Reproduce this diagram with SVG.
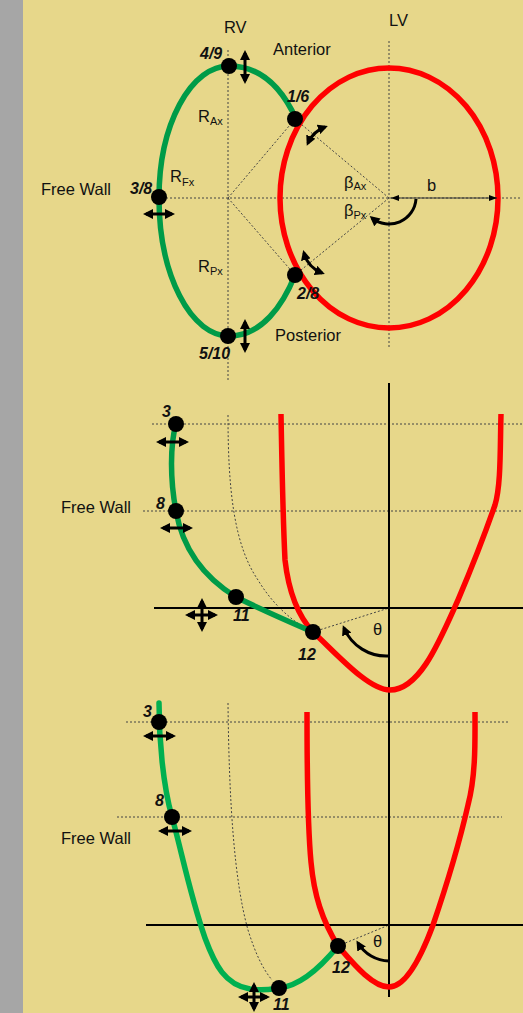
<svg xmlns="http://www.w3.org/2000/svg" width="523" height="1013" viewBox="0 0 523 1013">
<defs>
<style>
.lbl{font-family:"Liberation Sans",Arial,sans-serif;font-size:16.5px;fill:#111}
.num{font-family:"Liberation Sans",Arial,sans-serif;font-size:16px;font-weight:bold;font-style:italic;fill:#111}
.sub{font-size:11px}
.dot{stroke:#444;stroke-width:1;stroke-dasharray:2 2;fill:none}
.axis{stroke:#000;stroke-width:2;fill:none}
.red{stroke:#FF0000;stroke-width:5.5;fill:none;stroke-linejoin:round}
.grn{stroke:#009B48;stroke-width:5.5;fill:none;stroke-linecap:round}
.grn2{stroke:#00B050;stroke-width:5.5;fill:none;stroke-linecap:round}
.pt{fill:#000}
.arr{stroke:#000;stroke-width:3;fill:none;marker-start:url(#head);marker-end:url(#head)}
.arr1{stroke:#000;stroke-width:3;fill:none;marker-end:url(#head)}
</style>
<marker id="head" viewBox="0 0 10 10" refX="7" refY="5" markerWidth="10" markerHeight="10" markerUnits="userSpaceOnUse" orient="auto-start-reverse"><path d="M0,0 L10,5 L0,10 z" fill="#000"/></marker>
<marker id="headS" viewBox="0 0 8 6" refX="8" refY="3" markerWidth="8" markerHeight="6" markerUnits="userSpaceOnUse" orient="auto-start-reverse"><path d="M0,0 L8,3 L0,6 z" fill="#000"/></marker>
</defs>
<rect x="0" y="0" width="523" height="1013" fill="#E7D78A"/>
<rect x="0" y="0" width="23" height="1013" fill="#A6A6A6"/>

<g id="connectors">
  <line class="dot" x1="228" y1="50" x2="228" y2="382"/>
  <line class="dot" x1="389" y1="41" x2="389" y2="347"/>
  <line class="dot" x1="166" y1="198" x2="521" y2="198"/>
  <line class="dot" x1="228" y1="198" x2="295" y2="119"/>
  <line class="dot" x1="228" y1="198" x2="295" y2="275"/>
  <line class="dot" x1="389" y1="198" x2="295" y2="119"/>
  <line class="dot" x1="389" y1="198" x2="295" y2="275"/>
  <line class="dot" x1="152" y1="424" x2="523" y2="424"/>
  <line class="dot" x1="143" y1="511" x2="523" y2="511"/>
  <path class="dot" d="M228,415 C228,490 234,545 258,580 C270,600 285,615 302,626"/>
  <line class="dot" x1="313" y1="632" x2="389" y2="608"/>
  <line class="axis" x1="389" y1="383" x2="389" y2="705"/>
  <line class="axis" x1="154" y1="608" x2="523" y2="608"/>
  <line class="dot" x1="126" y1="722" x2="510" y2="722"/>
  <line class="dot" x1="117" y1="817" x2="502" y2="817"/>
  <path class="dot" d="M228,703 C229,800 234,880 248,930 C255,952 262,968 272,980"/>
  <line class="dot" x1="338" y1="946" x2="389" y2="925"/>
  <line class="axis" x1="389" y1="705" x2="389" y2="997"/>
  <line class="axis" x1="146" y1="925" x2="523" y2="925"/>
</g>

<g id="top-diagram">
  <g id="lv-top"><ellipse class="red" cx="389" cy="198" rx="109" ry="130"/></g>
  <g id="rv-top"><path class="grn" d="M296,119 C283,90 262,66 229,66 A70 132 0 0 0 159,198 A70 138 0 0 0 229,336 C262,336 283,305 295,275"/></g>
  <g id="b-dim">
    <line x1="391" y1="198" x2="497" y2="198" stroke="#333" stroke-width="1.2" marker-start="url(#headS)" marker-end="url(#headS)"/>
    <text class="lbl" x="427" y="191">b</text>
  </g>
  <path class="arr1" d="M416,199 A27 27 0 0 1 372,218"/>
  <g id="p16">
    <circle class="pt" cx="295" cy="119" r="8"/>
    <text class="num" x="287" y="102">1/6</text>
    <path class="arr" d="M308,143 A30 30 0 0 1 325,127"/>
  </g>
  <g id="p49">
    <circle class="pt" cx="229" cy="66" r="8"/>
    <text class="num" x="200" y="59">4/9</text>
    <line class="arr" x1="245" y1="53" x2="245" y2="81"/>
  </g>
  <g id="p38">
    <circle class="pt" cx="159" cy="197" r="8"/>
    <text class="num" x="130" y="194">3/8</text>
    <line class="arr" x1="146" y1="214" x2="172" y2="214"/>
  </g>
  <g id="p510">
    <circle class="pt" cx="228" cy="336" r="8"/>
    <text class="num" x="199" y="359">5/10</text>
    <line class="arr" x1="245" y1="322" x2="245" y2="350"/>
  </g>
  <g id="p28">
    <circle class="pt" cx="295" cy="275" r="8"/>
    <text class="num" x="297" y="299">2/8</text>
    <path class="arr" d="M304,253 A30 30 0 0 0 322,273"/>
  </g>
  <g id="labels-top">
    <text class="lbl" x="224" y="33">RV</text>
    <text class="lbl" x="389" y="26">LV</text>
    <text class="lbl" x="273" y="55">Anterior</text>
    <text class="lbl" x="275" y="341">Posterior</text>
    <text class="lbl" x="41" y="195">Free Wall</text>
    <text class="lbl" x="198" y="122">R<tspan class="sub" dy="3">Ax</tspan></text>
    <text class="lbl" x="170" y="182">R<tspan class="sub" dy="4">Fx</tspan></text>
    <text class="lbl" x="198" y="272">R<tspan class="sub" dy="3">Px</tspan></text>
    <text class="lbl" x="344" y="188">β<tspan class="sub" dy="2">Ax</tspan></text>
    <text class="lbl" x="344" y="216">β<tspan class="sub" dy="3">Px</tspan></text>
  </g>
</g>

<g id="middle-diagram">
  <g id="lv-mid"><path class="red" d="M281,414 C282,470 283,520 285,560 C289,595 300,618 313,632 C335,652 368,690 390,690 C420,690 440,640 458,600 C475,560 488,525 495,505 C501,485 500,450 501,414"/></g>
  <g id="rv-mid"><path class="grn" d="M176,424 C170,445 170,480 176,511 C182,545 200,575 236,597 C262,610 290,622 313,632"/></g>
  <text class="lbl" x="61" y="513">Free Wall</text>
  <g id="m3">
    <circle class="pt" cx="176" cy="424" r="8"/>
    <text class="num" x="162" y="417">3</text>
    <line class="arr" x1="159" y1="442" x2="186" y2="442"/>
  </g>
  <g id="m8">
    <circle class="pt" cx="176" cy="511" r="8"/>
    <text class="num" x="156" y="509">8</text>
    <line class="arr" x1="163" y1="528" x2="190" y2="528"/>
  </g>
  <g id="m11">
    <circle class="pt" cx="236" cy="597" r="8"/>
    <text class="num" x="233" y="621">11</text>
    <line class="arr" x1="188" y1="615" x2="215" y2="615"/>
    <line class="arr" x1="202" y1="601" x2="202" y2="629"/>
  </g>
  <g id="m12">
    <circle class="pt" cx="313" cy="632" r="8"/>
    <text class="num" x="298" y="660">12</text>
  </g>
  <g id="theta-mid">
    <path class="arr1" d="M389,656 A46 46 0 0 1 344,628"/>
    <text class="lbl" x="373" y="635">θ</text>
  </g>
</g>

<g id="bottom-diagram">
  <g id="lv-bot"><path class="red" d="M307,712 C307,780 308,830 311,862 C314,895 322,920 338,946 C352,962 372,987 389,987 C405,987 420,960 433,925 C445,890 460,840 468,805 C476,775 475,740 475,712"/></g>
  <g id="rv-bot"><path class="grn2" d="M159,703 C159,740 163,785 172,817 C181,849 190,895 205,938 C215,965 225,985 250,989 C265,991 272,989 279,988 C300,986 320,968 338,946"/></g>
  <text class="lbl" x="61" y="844">Free Wall</text>
  <g id="b3">
    <circle class="pt" cx="159" cy="722" r="8"/>
    <text class="num" x="143" y="717">3</text>
    <line class="arr" x1="146" y1="736" x2="173" y2="736"/>
  </g>
  <g id="b8">
    <circle class="pt" cx="172" cy="817" r="8"/>
    <text class="num" x="155" y="806">8</text>
    <line class="arr" x1="161" y1="831" x2="189" y2="831"/>
  </g>
  <g id="b11">
    <circle class="pt" cx="279" cy="988" r="8"/>
    <text class="num" x="273" y="1010">11</text>
    <line class="arr" x1="241" y1="997" x2="267" y2="997"/>
    <line class="arr" x1="254" y1="985" x2="254" y2="1009"/>
  </g>
  <g id="b12">
    <circle class="pt" cx="338" cy="946" r="8"/>
    <text class="num" x="332" y="973">12</text>
  </g>
  <g id="theta-bot">
    <path class="arr1" d="M389,961 A37 37 0 0 1 358,943"/>
    <text class="lbl" x="373" y="947">θ</text>
  </g>
</g>
</svg>
